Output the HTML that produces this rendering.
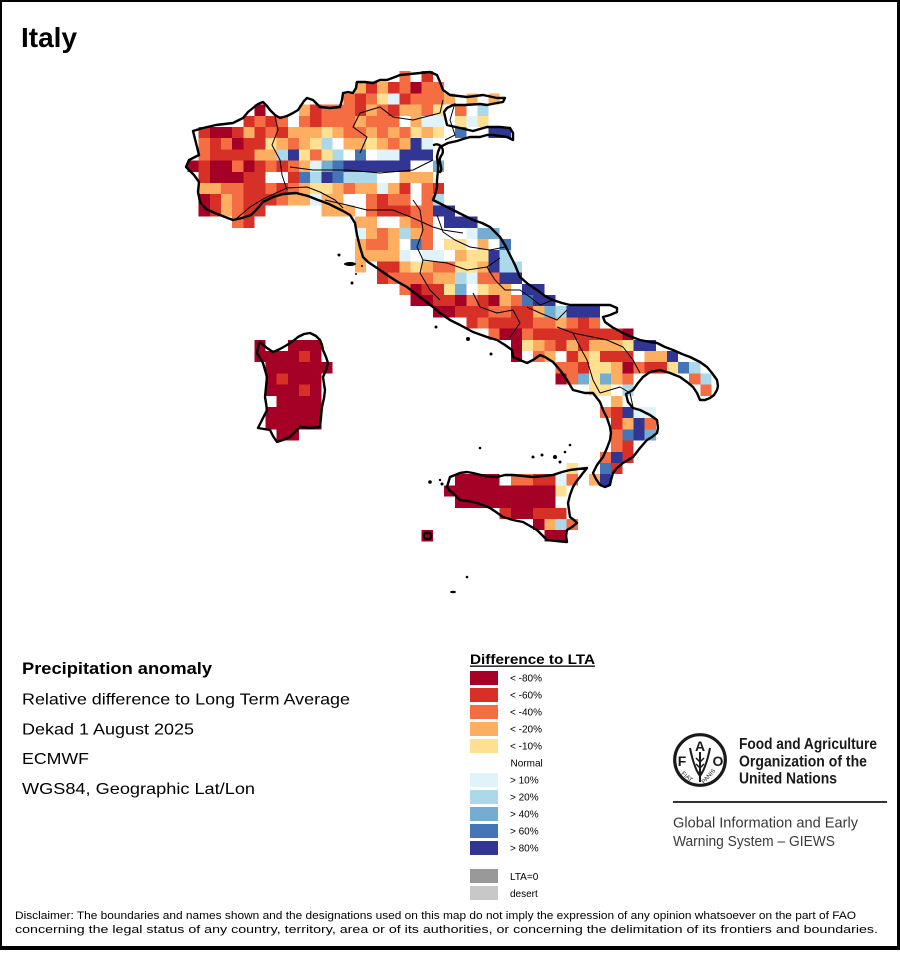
<!DOCTYPE html>
<html><head><meta charset="utf-8"><style>
html,body{margin:0;padding:0;background:#fff}
svg text{font-family:"Liberation Sans",Arial,sans-serif}
.a{fill:#a50026}.b{fill:#d73027}.c{fill:#f46d43}.d{fill:#fdae61}.e{fill:#fee090}
.f{fill:#e0f3f8}.g{fill:#abd9e9}.h{fill:#74add1}.i{fill:#4575b4}.j{fill:#313695}
</style></head><body>
<svg width="900" height="950" viewBox="0 0 900 950" xmlns="http://www.w3.org/2000/svg">
<rect x="0" y="0" width="900" height="950" fill="#fff"/>
<g transform="translate(187.5 71) scale(11.15 11.2)" shape-rendering="crispEdges">
<rect x="19" y="0" width="1" height="1" class="c"/><rect x="21" y="0" width="1" height="1" class="b"/>
<rect x="15" y="1" width="1" height="1" class="d"/><rect x="16" y="1" width="1" height="1" class="b"/><rect x="17" y="1" width="1" height="1" class="d"/><rect x="18" y="1" width="1" height="1" class="b"/><rect x="19" y="1" width="1" height="1" class="c"/><rect x="20" y="1" width="1" height="1" class="a"/><rect x="21" y="1" width="2" height="1" class="c"/>
<rect x="14" y="2" width="1" height="1" class="c"/><rect x="15" y="2" width="1" height="1" class="b"/><rect x="16" y="2" width="1" height="1" class="c"/><rect x="17" y="2" width="1" height="1" class="e"/><rect x="18" y="2" width="1" height="1" class="f"/><rect x="19" y="2" width="1" height="1" class="b"/><rect x="20" y="2" width="3" height="1" class="c"/><rect x="23" y="2" width="1" height="1" class="d"/><rect x="25" y="2" width="1" height="1" class="d"/><rect x="27" y="2" width="1" height="1" class="d"/>
<rect x="6" y="3" width="1" height="1" class="a"/><rect x="10" y="3" width="1" height="1" class="d"/><rect x="11" y="3" width="1" height="1" class="b"/><rect x="12" y="3" width="3" height="1" class="c"/><rect x="15" y="3" width="1" height="1" class="b"/><rect x="16" y="3" width="1" height="1" class="d"/><rect x="17" y="3" width="1" height="1" class="c"/><rect x="18" y="3" width="1" height="1" class="b"/><rect x="19" y="3" width="2" height="1" class="d"/><rect x="21" y="3" width="1" height="1" class="c"/><rect x="22" y="3" width="1" height="1" class="e"/><rect x="24" y="3" width="1" height="1" class="c"/><rect x="26" y="3" width="1" height="1" class="g"/>
<rect x="5" y="4" width="1" height="1" class="b"/><rect x="6" y="4" width="1" height="1" class="c"/><rect x="7" y="4" width="1" height="1" class="b"/><rect x="8" y="4" width="1" height="1" class="c"/><rect x="10" y="4" width="1" height="1" class="c"/><rect x="11" y="4" width="1" height="1" class="b"/><rect x="12" y="4" width="3" height="1" class="c"/><rect x="15" y="4" width="1" height="1" class="d"/><rect x="16" y="4" width="3" height="1" class="c"/><rect x="20" y="4" width="1" height="1" class="d"/><rect x="21" y="4" width="2" height="1" class="f"/><rect x="24" y="4" width="1" height="1" class="e"/><rect x="25" y="4" width="1" height="1" class="f"/><rect x="26" y="4" width="1" height="1" class="e"/>
<rect x="1" y="5" width="1" height="1" class="b"/><rect x="2" y="5" width="2" height="1" class="a"/><rect x="4" y="5" width="1" height="1" class="b"/><rect x="5" y="5" width="1" height="1" class="d"/><rect x="6" y="5" width="1" height="1" class="b"/><rect x="7" y="5" width="1" height="1" class="c"/><rect x="8" y="5" width="1" height="1" class="b"/><rect x="9" y="5" width="3" height="1" class="d"/><rect x="12" y="5" width="1" height="1" class="e"/><rect x="13" y="5" width="1" height="1" class="d"/><rect x="14" y="5" width="2" height="1" class="c"/><rect x="16" y="5" width="1" height="1" class="d"/><rect x="17" y="5" width="1" height="1" class="c"/><rect x="18" y="5" width="1" height="1" class="d"/><rect x="19" y="5" width="1" height="1" class="c"/><rect x="20" y="5" width="1" height="1" class="e"/><rect x="21" y="5" width="1" height="1" class="d"/><rect x="22" y="5" width="1" height="1" class="e"/><rect x="24" y="5" width="1" height="1" class="i"/><rect x="27" y="5" width="2" height="1" class="j"/>
<rect x="1" y="6" width="1" height="1" class="c"/><rect x="2" y="6" width="1" height="1" class="b"/><rect x="3" y="6" width="1" height="1" class="c"/><rect x="4" y="6" width="1" height="1" class="a"/><rect x="5" y="6" width="2" height="1" class="b"/><rect x="7" y="6" width="1" height="1" class="e"/><rect x="8" y="6" width="1" height="1" class="d"/><rect x="9" y="6" width="1" height="1" class="c"/><rect x="10" y="6" width="1" height="1" class="d"/><rect x="11" y="6" width="1" height="1" class="e"/><rect x="12" y="6" width="1" height="1" class="g"/><rect x="14" y="6" width="2" height="1" class="d"/><rect x="16" y="6" width="1" height="1" class="e"/><rect x="17" y="6" width="1" height="1" class="d"/><rect x="18" y="6" width="1" height="1" class="c"/><rect x="19" y="6" width="1" height="1" class="d"/><rect x="20" y="6" width="1" height="1" class="j"/><rect x="21" y="6" width="1" height="1" class="f"/>
<rect x="1" y="7" width="1" height="1" class="c"/><rect x="2" y="7" width="4" height="1" class="b"/><rect x="6" y="7" width="2" height="1" class="d"/><rect x="8" y="7" width="1" height="1" class="g"/><rect x="9" y="7" width="1" height="1" class="j"/><rect x="10" y="7" width="1" height="1" class="e"/><rect x="11" y="7" width="1" height="1" class="c"/><rect x="12" y="7" width="1" height="1" class="e"/><rect x="13" y="7" width="1" height="1" class="g"/><rect x="15" y="7" width="1" height="1" class="i"/><rect x="17" y="7" width="2" height="1" class="f"/><rect x="19" y="7" width="3" height="1" class="j"/>
<rect x="0" y="8" width="1" height="1" class="a"/><rect x="1" y="8" width="1" height="1" class="b"/><rect x="2" y="8" width="2" height="1" class="a"/><rect x="4" y="8" width="1" height="1" class="c"/><rect x="5" y="8" width="1" height="1" class="a"/><rect x="6" y="8" width="1" height="1" class="b"/><rect x="7" y="8" width="1" height="1" class="c"/><rect x="8" y="8" width="1" height="1" class="b"/><rect x="9" y="8" width="1" height="1" class="c"/><rect x="10" y="8" width="1" height="1" class="d"/><rect x="11" y="8" width="1" height="1" class="f"/><rect x="12" y="8" width="1" height="1" class="h"/><rect x="13" y="8" width="1" height="1" class="i"/><rect x="14" y="8" width="6" height="1" class="j"/><rect x="22" y="8" width="1" height="1" class="h"/>
<rect x="1" y="9" width="1" height="1" class="b"/><rect x="2" y="9" width="3" height="1" class="a"/><rect x="5" y="9" width="2" height="1" class="b"/><rect x="9" y="9" width="1" height="1" class="b"/><rect x="10" y="9" width="1" height="1" class="i"/><rect x="11" y="9" width="1" height="1" class="g"/><rect x="12" y="9" width="1" height="1" class="j"/><rect x="13" y="9" width="1" height="1" class="i"/><rect x="14" y="9" width="3" height="1" class="g"/><rect x="19" y="9" width="3" height="1" class="d"/>
<rect x="1" y="10" width="2" height="1" class="d"/><rect x="3" y="10" width="2" height="1" class="c"/><rect x="5" y="10" width="2" height="1" class="b"/><rect x="7" y="10" width="1" height="1" class="c"/><rect x="8" y="10" width="1" height="1" class="b"/><rect x="9" y="10" width="1" height="1" class="c"/><rect x="10" y="10" width="1" height="1" class="d"/><rect x="11" y="10" width="2" height="1" class="e"/><rect x="13" y="10" width="1" height="1" class="d"/><rect x="14" y="10" width="1" height="1" class="c"/><rect x="15" y="10" width="2" height="1" class="d"/><rect x="17" y="10" width="1" height="1" class="f"/><rect x="18" y="10" width="1" height="1" class="d"/><rect x="19" y="10" width="1" height="1" class="b"/><rect x="21" y="10" width="1" height="1" class="c"/><rect x="22" y="10" width="1" height="1" class="b"/>
<rect x="1" y="11" width="1" height="1" class="a"/><rect x="2" y="11" width="1" height="1" class="b"/><rect x="3" y="11" width="1" height="1" class="d"/><rect x="4" y="11" width="1" height="1" class="c"/><rect x="5" y="11" width="3" height="1" class="b"/><rect x="8" y="11" width="1" height="1" class="c"/><rect x="9" y="11" width="2" height="1" class="d"/><rect x="11" y="11" width="1" height="1" class="f"/><rect x="12" y="11" width="2" height="1" class="d"/><rect x="16" y="11" width="1" height="1" class="c"/><rect x="17" y="11" width="1" height="1" class="b"/><rect x="18" y="11" width="2" height="1" class="c"/><rect x="21" y="11" width="1" height="1" class="c"/><rect x="22" y="11" width="1" height="1" class="g"/>
<rect x="1" y="12" width="1" height="1" class="a"/><rect x="2" y="12" width="1" height="1" class="b"/><rect x="3" y="12" width="1" height="1" class="d"/><rect x="4" y="12" width="1" height="1" class="c"/><rect x="5" y="12" width="2" height="1" class="b"/><rect x="12" y="12" width="3" height="1" class="d"/><rect x="16" y="12" width="1" height="1" class="c"/><rect x="17" y="12" width="3" height="1" class="b"/><rect x="20" y="12" width="2" height="1" class="c"/><rect x="22" y="12" width="2" height="1" class="j"/>
<rect x="4" y="13" width="1" height="1" class="c"/><rect x="5" y="13" width="1" height="1" class="b"/><rect x="15" y="13" width="2" height="1" class="d"/><rect x="19" y="13" width="1" height="1" class="d"/><rect x="20" y="13" width="2" height="1" class="c"/><rect x="23" y="13" width="3" height="1" class="j"/>
<rect x="15" y="14" width="1" height="1" class="f"/><rect x="16" y="14" width="1" height="1" class="d"/><rect x="17" y="14" width="1" height="1" class="c"/><rect x="18" y="14" width="1" height="1" class="d"/><rect x="19" y="14" width="1" height="1" class="g"/><rect x="20" y="14" width="1" height="1" class="d"/><rect x="21" y="14" width="1" height="1" class="c"/><rect x="25" y="14" width="1" height="1" class="f"/><rect x="26" y="14" width="2" height="1" class="h"/>
<rect x="15" y="15" width="1" height="1" class="d"/><rect x="16" y="15" width="2" height="1" class="c"/><rect x="18" y="15" width="1" height="1" class="d"/><rect x="20" y="15" width="1" height="1" class="i"/><rect x="21" y="15" width="1" height="1" class="c"/><rect x="23" y="15" width="2" height="1" class="e"/><rect x="26" y="15" width="1" height="1" class="d"/><rect x="28" y="15" width="1" height="1" class="i"/>
<rect x="15" y="16" width="4" height="1" class="d"/><rect x="19" y="16" width="1" height="1" class="f"/><rect x="21" y="16" width="2" height="1" class="f"/><rect x="24" y="16" width="1" height="1" class="d"/><rect x="25" y="16" width="2" height="1" class="e"/><rect x="27" y="16" width="1" height="1" class="j"/><rect x="28" y="16" width="1" height="1" class="g"/>
<rect x="15" y="17" width="1" height="1" class="d"/><rect x="17" y="17" width="2" height="1" class="b"/><rect x="19" y="17" width="1" height="1" class="d"/><rect x="20" y="17" width="1" height="1" class="e"/><rect x="21" y="17" width="1" height="1" class="d"/><rect x="22" y="17" width="2" height="1" class="c"/><rect x="24" y="17" width="2" height="1" class="e"/><rect x="26" y="17" width="1" height="1" class="d"/><rect x="27" y="17" width="1" height="1" class="j"/><rect x="28" y="17" width="2" height="1" class="g"/>
<rect x="17" y="18" width="1" height="1" class="b"/><rect x="18" y="18" width="4" height="1" class="c"/><rect x="22" y="18" width="2" height="1" class="d"/><rect x="24" y="18" width="1" height="1" class="g"/><rect x="25" y="18" width="1" height="1" class="f"/><rect x="26" y="18" width="2" height="1" class="c"/><rect x="28" y="18" width="2" height="1" class="j"/>
<rect x="19" y="19" width="1" height="1" class="c"/><rect x="20" y="19" width="1" height="1" class="a"/><rect x="21" y="19" width="2" height="1" class="b"/><rect x="23" y="19" width="1" height="1" class="e"/><rect x="24" y="19" width="1" height="1" class="h"/><rect x="26" y="19" width="1" height="1" class="e"/><rect x="27" y="19" width="2" height="1" class="d"/><rect x="30" y="19" width="2" height="1" class="j"/>
<rect x="20" y="20" width="2" height="1" class="a"/><rect x="22" y="20" width="2" height="1" class="b"/><rect x="24" y="20" width="1" height="1" class="a"/><rect x="25" y="20" width="1" height="1" class="c"/><rect x="26" y="20" width="1" height="1" class="b"/><rect x="27" y="20" width="1" height="1" class="a"/><rect x="28" y="20" width="1" height="1" class="d"/><rect x="29" y="20" width="1" height="1" class="c"/><rect x="30" y="20" width="1" height="1" class="i"/><rect x="31" y="20" width="2" height="1" class="j"/>
<rect x="22" y="21" width="2" height="1" class="a"/><rect x="24" y="21" width="3" height="1" class="b"/><rect x="27" y="21" width="2" height="1" class="c"/><rect x="29" y="21" width="2" height="1" class="b"/><rect x="31" y="21" width="1" height="1" class="d"/><rect x="32" y="21" width="1" height="1" class="h"/><rect x="33" y="21" width="1" height="1" class="g"/><rect x="34" y="21" width="3" height="1" class="j"/>
<rect x="25" y="22" width="1" height="1" class="b"/><rect x="26" y="22" width="1" height="1" class="c"/><rect x="27" y="22" width="4" height="1" class="b"/><rect x="31" y="22" width="2" height="1" class="c"/><rect x="33" y="22" width="1" height="1" class="d"/><rect x="34" y="22" width="1" height="1" class="c"/><rect x="35" y="22" width="1" height="1" class="b"/><rect x="36" y="22" width="1" height="1" class="c"/>
<rect x="27" y="23" width="1" height="1" class="c"/><rect x="28" y="23" width="2" height="1" class="a"/><rect x="30" y="23" width="1" height="1" class="c"/><rect x="31" y="23" width="8" height="1" class="b"/><rect x="39" y="23" width="1" height="1" class="a"/>
<rect x="6" y="24" width="1" height="1" class="a"/><rect x="9" y="24" width="3" height="1" class="a"/><rect x="29" y="24" width="1" height="1" class="a"/><rect x="30" y="24" width="1" height="1" class="e"/><rect x="31" y="24" width="1" height="1" class="d"/><rect x="32" y="24" width="1" height="1" class="c"/><rect x="33" y="24" width="1" height="1" class="b"/><rect x="34" y="24" width="1" height="1" class="d"/><rect x="35" y="24" width="1" height="1" class="b"/><rect x="36" y="24" width="3" height="1" class="d"/><rect x="39" y="24" width="1" height="1" class="e"/><rect x="40" y="24" width="2" height="1" class="j"/>
<rect x="6" y="25" width="4" height="1" class="a"/><rect x="10" y="25" width="1" height="1" class="b"/><rect x="11" y="25" width="1" height="1" class="a"/><rect x="29" y="25" width="1" height="1" class="a"/><rect x="31" y="25" width="1" height="1" class="c"/><rect x="32" y="25" width="1" height="1" class="d"/><rect x="34" y="25" width="1" height="1" class="b"/><rect x="35" y="25" width="1" height="1" class="d"/><rect x="36" y="25" width="1" height="1" class="e"/><rect x="37" y="25" width="3" height="1" class="b"/><rect x="41" y="25" width="2" height="1" class="d"/><rect x="43" y="25" width="1" height="1" class="j"/>
<rect x="7" y="26" width="6" height="1" class="a"/><rect x="33" y="26" width="2" height="1" class="c"/><rect x="35" y="26" width="1" height="1" class="b"/><rect x="36" y="26" width="2" height="1" class="e"/><rect x="38" y="26" width="1" height="1" class="d"/><rect x="39" y="26" width="1" height="1" class="a"/><rect x="40" y="26" width="1" height="1" class="c"/><rect x="41" y="26" width="2" height="1" class="b"/><rect x="43" y="26" width="1" height="1" class="e"/><rect x="44" y="26" width="1" height="1" class="i"/><rect x="45" y="26" width="1" height="1" class="g"/>
<rect x="7" y="27" width="1" height="1" class="a"/><rect x="8" y="27" width="1" height="1" class="b"/><rect x="9" y="27" width="3" height="1" class="a"/><rect x="33" y="27" width="1" height="1" class="a"/><rect x="34" y="27" width="1" height="1" class="c"/><rect x="35" y="27" width="1" height="1" class="h"/><rect x="36" y="27" width="1" height="1" class="e"/><rect x="37" y="27" width="1" height="1" class="h"/><rect x="38" y="27" width="1" height="1" class="d"/><rect x="39" y="27" width="1" height="1" class="c"/><rect x="45" y="27" width="1" height="1" class="c"/><rect x="46" y="27" width="1" height="1" class="g"/>
<rect x="7" y="28" width="3" height="1" class="a"/><rect x="10" y="28" width="1" height="1" class="b"/><rect x="11" y="28" width="1" height="1" class="a"/><rect x="36" y="28" width="2" height="1" class="e"/><rect x="39" y="28" width="1" height="1" class="g"/><rect x="46" y="28" width="1" height="1" class="c"/>
<rect x="8" y="29" width="4" height="1" class="a"/><rect x="38" y="29" width="1" height="1" class="d"/>
<rect x="7" y="30" width="5" height="1" class="a"/><rect x="37" y="30" width="1" height="1" class="c"/><rect x="38" y="30" width="1" height="1" class="b"/><rect x="39" y="30" width="1" height="1" class="j"/><rect x="40" y="30" width="2" height="1" class="f"/>
<rect x="7" y="31" width="5" height="1" class="a"/><rect x="38" y="31" width="1" height="1" class="b"/><rect x="39" y="31" width="1" height="1" class="d"/><rect x="40" y="31" width="1" height="1" class="j"/><rect x="41" y="31" width="1" height="1" class="c"/>
<rect x="8" y="32" width="2" height="1" class="a"/><rect x="38" y="32" width="1" height="1" class="c"/><rect x="39" y="32" width="1" height="1" class="i"/><rect x="40" y="32" width="1" height="1" class="j"/><rect x="41" y="32" width="1" height="1" class="h"/>
<rect x="38" y="33" width="1" height="1" class="c"/><rect x="39" y="33" width="1" height="1" class="b"/>
<rect x="37" y="34" width="1" height="1" class="c"/><rect x="38" y="34" width="1" height="1" class="j"/><rect x="39" y="34" width="1" height="1" class="b"/>
<rect x="34" y="35" width="1" height="1" class="e"/><rect x="37" y="35" width="1" height="1" class="i"/><rect x="38" y="35" width="1" height="1" class="b"/>
<rect x="24" y="36" width="4" height="1" class="a"/><rect x="29" y="36" width="2" height="1" class="c"/><rect x="31" y="36" width="2" height="1" class="b"/><rect x="33" y="36" width="1" height="1" class="f"/><rect x="34" y="36" width="1" height="1" class="c"/><rect x="36" y="36" width="1" height="1" class="d"/><rect x="37" y="36" width="1" height="1" class="j"/>
<rect x="23" y="37" width="10" height="1" class="a"/><rect x="33" y="37" width="1" height="1" class="e"/>
<rect x="24" y="38" width="9" height="1" class="a"/>
<rect x="28" y="39" width="1" height="1" class="b"/><rect x="29" y="39" width="2" height="1" class="a"/><rect x="31" y="39" width="3" height="1" class="b"/>
<rect x="31" y="40" width="1" height="1" class="a"/><rect x="32" y="40" width="1" height="1" class="d"/><rect x="33" y="40" width="1" height="1" class="g"/><rect x="34" y="40" width="1" height="1" class="c"/>
<rect x="21" y="41" width="1" height="1" class="a"/><rect x="32" y="41" width="2" height="1" class="a"/>
</g>

<!-- regional boundaries -->
<g fill="none" stroke="#000" stroke-width="1" stroke-linejoin="round">
<polyline points="275,116 278,130 272,145 280,160 282,175 287,190"/>
<polyline points="236,219 250,207 265,198 287,188 307,187 320,192 335,200 343,208"/>
<polyline points="290,167 313,170 347,170 380,173 413,170 433,160"/>
<polyline points="325,200 347,205 367,210 393,210 413,218 433,227 443,230 463,233"/>
<polyline points="360,153 367,137 353,127 360,113 380,107 393,117 413,120 440,113 443,100"/>
<polyline points="455,103 450,120 455,135 445,140"/>
<polyline points="413,200 420,210 423,230 417,247 423,260 420,273 430,290 440,300"/>
<polyline points="423,260 447,263 467,270 487,267 500,258"/>
<polyline points="437,215 443,232 455,240 470,247 490,250 505,247"/>
<polyline points="473,293 480,307 497,313 513,310 520,323 513,333 510,337"/>
<polyline points="487,267 495,280 505,290 520,290 530,297 540,305 553,300"/>
<polyline points="527,307 540,313 557,320 567,310"/>
<polyline points="557,327 573,333 580,347 587,360 593,380 600,393"/>
<polyline points="573,333 607,340 623,347 633,360 640,373"/>
<polyline points="600,393 620,387 630,393 633,407"/>
</g>

<!-- coastlines / borders -->
<g fill="none" stroke="#000" stroke-width="2.4" stroke-linejoin="round" stroke-linecap="round">
<polygon points="233,220 225,217 215,213 206,209 200,202 198,192 199,182 194,175 186,167 189,160 199,155 196,143 193,131 203,128 216,125 233,123 243,118 248,112 253,108 258,104 263,102 267,106 270,110 275,115 280,118 287,116 293,113 298,110 300,107 304,101 307,98 313,100 317,104 320,107 330,108 340,107 342,100 343,93 348,92 353,93 356,88 357,82 365,82 373,83 380,80 387,80 395,77 400,75 410,74 420,73 430,72 437,75 440,82 443,90 450,95 467,97 483,95 497,98 505,98 503,102 497,103 487,105 480,104 465,105 453,105 447,108 444,112 447,125 460,128 473,131 487,127 500,127 510,128 513,133 513,140 507,137 500,136 493,135 487,135 480,137 470,137 463,139 457,141 448,143 440,147 438,152 437,157 438,165 438,170 437,180 437,187 435,195 433,200 443,205 453,210 463,215 473,220 482,223 490,227 495,232 500,237 505,245 510,255 515,265 520,277 528,284 537,290 545,296 553,300 562,303 570,305 590,305 610,305 617,308 617,312 610,315 603,317 605,322 612,327 623,333 632,337 640,340 650,342 657,343 665,347 673,350 682,354 690,357 700,362 707,367 712,373 717,380 718,386 717,390 714,395 710,398 705,400 700,400 697,393 693,387 687,382 680,377 670,373 660,370 650,372 643,377 638,383 633,390 626,394 628,402 633,408 640,410 650,415 657,420 658,428 657,433 652,437 647,440 640,448 633,457 623,463 617,468 613,473 611,480 610,485 605,487 600,485 596,479 593,473 597,465 603,457 607,448 610,440 611,433 610,427 607,418 603,410 600,402 593,393 585,393 573,390 567,380 560,370 553,362 545,357 540,355 533,360 527,363 520,360 513,357 512,350 505,345 497,340 487,337 473,332 460,325 450,320 440,313 433,307 420,297 407,287 398,282 390,277 377,268 368,262 363,257 360,247 357,235 355,223 350,215 343,211 335,207 329,204 318,200 308,196 296,193 283,194 273,197 263,202 257,209 251,215 242,218"/>
<polygon points="260,342 267,348 273,352 280,349 287,345 293,341 298,337 304,334 310,333 316,336 320,340 322,345 323,350 326,357 328,363 326,370 323,377 324,384 325,390 324,398 322,407 321,417 320,427 310,428 300,427 295,432 290,437 283,440 277,442 273,436 270,430 264,429 258,428 262,420 267,410 266,403 265,397 266,387 267,377 265,370 263,363 260,358 257,353 258,347"/>
<polygon points="447,487 450,477 455,475 460,473 467,472 473,473 485,476 497,477 505,475 513,475 523,476 533,477 543,476 553,475 562,472 570,470 578,469 587,468 583,473 580,477 576,482 573,487 570,495 568,503 569,510 570,517 574,520 577,523 572,527 567,530 566,536 567,542 557,541 547,540 542,535 537,530 530,526 523,522 513,520 503,517 496,512 490,508 483,505 477,503 468,501 460,500 456,496 453,493 449,490"/>
<rect x="424" y="533" width="7" height="6" rx="2"/>
<path d="M434,145 C440,142 446,150 441,156 C437,162 444,168 440,172"/>
</g>
<g fill="#000">
<ellipse cx="350" cy="264" rx="6" ry="2"/><circle cx="339" cy="255" r="1.5"/><circle cx="352" cy="283" r="1.5"/>
<circle cx="436" cy="327" r="1.5"/><circle cx="468" cy="339" r="2"/><circle cx="491" cy="354" r="1.5"/>
<circle cx="480" cy="448" r="1.3"/><circle cx="533" cy="457" r="1.5"/><circle cx="542" cy="455" r="1.5"/><circle cx="555" cy="457" r="2"/><circle cx="560" cy="462" r="1.5"/><circle cx="570" cy="445" r="1.3"/><circle cx="565" cy="452" r="1.3"/>
<circle cx="430" cy="482" r="1.8"/><circle cx="442" cy="484" r="1.5"/><circle cx="440" cy="480" r="1.2"/>
<circle cx="467" cy="577" r="1.3"/><ellipse cx="453" cy="592" rx="3" ry="1.3"/>
<circle cx="356" cy="274" r="1"/><circle cx="362" cy="266" r="1"/>
</g>

<!-- frame -->
<rect x="0" y="0" width="900" height="2" fill="#000"/>
<rect x="0" y="0" width="2" height="950" fill="#000"/>
<rect x="897" y="0" width="3" height="950" fill="#000"/>
<rect x="0" y="946" width="900" height="4" fill="#000"/>

<!-- title -->
<text x="21" y="47" font-size="28" font-weight="bold" fill="#000">Italy</text>

<!-- info block -->
<text x="22" y="674" font-size="17" font-weight="bold" textLength="190" lengthAdjust="spacingAndGlyphs">Precipitation anomaly</text>
<text x="22" y="704.5" font-size="16" textLength="328" lengthAdjust="spacingAndGlyphs">Relative difference to Long Term Average</text>
<text x="22" y="734.5" font-size="16" textLength="172" lengthAdjust="spacingAndGlyphs">Dekad 1 August 2025</text>
<text x="22" y="764" font-size="16" textLength="67" lengthAdjust="spacingAndGlyphs">ECMWF</text>
<text x="22" y="794" font-size="16" textLength="233" lengthAdjust="spacingAndGlyphs">WGS84, Geographic Lat/Lon</text>

<!-- legend -->
<text x="470" y="664" font-size="14" font-weight="bold" textLength="125" lengthAdjust="spacingAndGlyphs">Difference to LTA</text>
<rect x="470" y="665.5" width="125" height="1.3" fill="#000"/>
<g shape-rendering="crispEdges">
<rect x="470" y="671" width="28" height="14" fill="#a50026"/>
<rect x="470" y="688" width="28" height="14" fill="#d73027"/>
<rect x="470" y="705" width="28" height="14" fill="#f46d43"/>
<rect x="470" y="722" width="28" height="14" fill="#fdae61"/>
<rect x="470" y="739" width="28" height="14" fill="#fee090"/>
<rect x="470" y="773" width="28" height="14" fill="#e0f3f8"/>
<rect x="470" y="790" width="28" height="14" fill="#abd9e9"/>
<rect x="470" y="807" width="28" height="14" fill="#74add1"/>
<rect x="470" y="824" width="28" height="14" fill="#4575b4"/>
<rect x="470" y="841" width="28" height="14" fill="#313695"/>
<rect x="470" y="869" width="28" height="14" fill="#999999"/>
<rect x="470" y="886" width="28" height="14" fill="#c8c8c8"/>
</g>
<g font-size="10" fill="#000">
<text x="510" y="681.5">&lt; -80%</text>
<text x="510" y="698.5">&lt; -60%</text>
<text x="510" y="715.5">&lt; -40%</text>
<text x="510" y="732.5">&lt; -20%</text>
<text x="510" y="749.5">&lt; -10%</text>
<text x="510.5" y="766.5">Normal</text>
<text x="510" y="783.5">&gt; 10%</text>
<text x="510" y="800.5">&gt; 20%</text>
<text x="510" y="817.5">&gt; 40%</text>
<text x="510" y="834.5">&gt; 60%</text>
<text x="510" y="851.5">&gt; 80%</text>
<text x="510" y="880">LTA=0</text>
<text x="510" y="897">desert</text>
</g>

<!-- FAO logo -->
<g>
<circle cx="700" cy="760" r="25.3" fill="none" stroke="#1a1a1a" stroke-width="3.2"/>
<text x="682" y="766" font-size="14" font-weight="bold" text-anchor="middle" fill="#1a1a1a">F</text>
<text x="700" y="751" font-size="14" font-weight="bold" text-anchor="middle" fill="#1a1a1a">A</text>
<text x="718" y="766" font-size="14" font-weight="bold" text-anchor="middle" fill="#1a1a1a">O</text>
<path d="M690,748 Q694,768 700,776 Q706,768 710,748" fill="none" stroke="#1a1a1a" stroke-width="2"/>
<line x1="700" y1="752" x2="700" y2="782" stroke="#1a1a1a" stroke-width="2"/>
<path d="M696,758 L700,762 L704,758 M696,764 L700,768 L704,764 M696,770 L700,774 L704,770" fill="none" stroke="#1a1a1a" stroke-width="1.5"/>
<text x="0" y="0" font-size="6" fill="#1a1a1a" transform="translate(681,774) rotate(40)">FIAT</text>
<text x="0" y="0" font-size="6" fill="#1a1a1a" transform="translate(704,784) rotate(-48)">PANIS</text>
</g>
<g fill="#1a1a1a" font-weight="bold" font-size="15.5">
<text x="739" y="749" textLength="138" lengthAdjust="spacingAndGlyphs">Food and Agriculture</text>
<text x="739" y="766.5" textLength="128" lengthAdjust="spacingAndGlyphs">Organization of the</text>
<text x="739" y="783.5" textLength="98" lengthAdjust="spacingAndGlyphs">United Nations</text>
</g>
<rect x="673" y="801" width="214" height="2" fill="#333"/>
<g fill="#3a3a3a" font-size="14.5">
<text x="673" y="827.5" textLength="185" lengthAdjust="spacingAndGlyphs">Global Information and Early</text>
<text x="673" y="846" textLength="162" lengthAdjust="spacingAndGlyphs">Warning System – GIEWS</text>
</g>

<!-- disclaimer -->
<g font-size="11" fill="#000">
<text x="15" y="919" textLength="841" lengthAdjust="spacingAndGlyphs">Disclaimer: The boundaries and names shown and the designations used on this map do not imply the expression of any opinion whatsoever on the part of FAO</text>
<text x="15" y="933" textLength="863" lengthAdjust="spacingAndGlyphs">concerning the legal status of any country, territory, area or of its authorities, or concerning the delimitation of its frontiers and boundaries.</text>
</g>
</svg>
</body></html>
